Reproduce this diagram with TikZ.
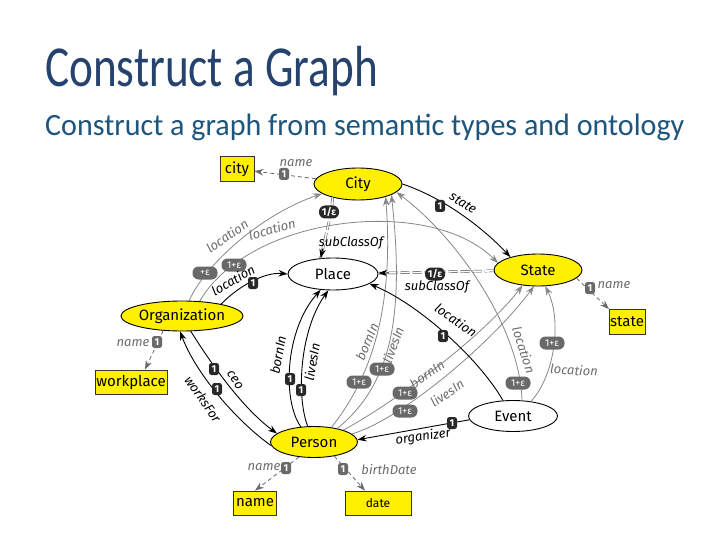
\documentclass[tikz,border=0pt]{standalone}
\usepackage{fontspec}
\setmainfont{Carlito}
\newfontfamily\titlefont[FakeStretch=0.78]{Carlito}
\newfontfamily\subfont[FakeStretch=0.97]{Carlito}
\newfontfamily\dfont{Fira Sans}
\usetikzlibrary{arrows.meta,shapes.geometric}
\definecolor{ylw}{RGB}{255,240,0}
\definecolor{ttlc}{RGB}{38,66,110}
\definecolor{subtc}{RGB}{30,85,125}
\definecolor{gedge}{RGB}{135,135,135}
\definecolor{glabc}{RGB}{110,110,110}
\definecolor{dbadge}{RGB}{40,40,40}
\definecolor{gbadgec}{RGB}{105,105,105}
\begin{document}
\begin{tikzpicture}[x=1pt,y=-1pt,
  >={Stealth[length=9pt,width=6.5pt]},
  ent/.style={ellipse, draw=black, line width=0.9pt, inner sep=0pt, font=\dfont\fontsize{15}{15}\selectfont},
  yent/.style={ent, fill=ylw},
  went/.style={ent, fill=white},
  lit/.style={rectangle, draw=black!80, fill=ylw, line width=0.8pt, inner sep=0pt, minimum height=24pt, font=\dfont\fontsize{15}{15}\selectfont},
  badge/.style={rectangle, fill=dbadge, text=white, rounded corners=2.5pt, inner sep=0pt, minimum width=10pt, minimum height=12pt, font=\dfont\bfseries\fontsize{10}{10}\selectfont},
  gbadge/.style={badge, fill=gbadgec},
  ebadge/.style={badge, minimum width=20pt, minimum height=13pt, rounded corners=6pt, font=\dfont\bfseries\fontsize{10}{10}\selectfont},
  pbadge/.style={badge, fill=gbadgec, minimum width=25pt, minimum height=13pt, rounded corners=6pt, font=\dfont\fontsize{10}{10}\selectfont},
  bl/.style={draw=black, line width=0.9pt},
  gl/.style={draw=gedge, line width=0.8pt},
  dl/.style={draw=gbadgec, line width=0.8pt, dash pattern=on 4pt off 3pt},
  subc/.style={draw=black!75, double=white, double distance=1.6pt, line width=0.45pt, dash pattern=on 9pt off 3pt},
  lab/.style={inner sep=0pt, font=\dfont\itshape\fontsize{13}{13}\selectfont},
  glab/.style={lab, text=glabc}
]
\useasboundingbox (0,0) rectangle (720,540);
\fill[white] (0,0) rectangle (720,540);

% titles
\node[anchor=base west, inner sep=0pt, text=ttlc, font=\titlefont\fontsize{58}{58}\selectfont] (title) at (45,87) {Construct a Graph};
\node[anchor=base west, inner sep=0pt, text=subtc, font=\subfont\fontsize{31}{31}\selectfont] (subtitle) at (45,136) {Construct a graph from semantic types and ontology};

% nodes
\node[yent, minimum width=88pt, minimum height=32pt] (City) at (358,184) {City};
\node[went, minimum width=90pt, minimum height=32pt] (Place) at (333,274) {Place};
\node[yent, minimum width=88pt, minimum height=32pt] (State) at (538,270) {State};
\node[yent, minimum width=97pt, minimum height=30pt] (Org) at (182,316) {Organization};
\node[went, minimum width=89pt, minimum height=31pt] (Event) at (513,416) {Event};
\node[yent, minimum width=87pt, minimum height=31pt] (Person) at (314,442) {Person};
\node[lit, minimum width=34pt, minimum height=25pt] (cityB) at (237,169) {city};
\node[lit, minimum width=36pt, minimum height=25pt] (stateB) at (627,322) {state};
\node[lit, minimum width=72pt] (workplace) at (131,382) {workplace};
\node[lit, minimum width=43pt] (nameB) at (255,503) {name};
\node[lit, minimum width=66pt, font=\dfont\fontsize{12}{12}\selectfont] (dateB) at (378,503) {date};

% City -> city
\draw[dl,->] (City) -- (cityB);
\node[gbadge] (b1) at (284,174) {1};
\node[glab] (l1) at (296,163) {name};

% City -> State
\draw[bl,->] (City.0) .. controls (450,200) and (490,235) .. (State.155);
\node[badge] (b2) at (440,206) {1};
\node[lab, rotate=-32] (l2) at (463,203) {state};

% City -> Place subClassOf
\draw[subc] (City.-152) -- ++(-1,13) coordinate (cp1) -- (Place.128);
\path (cp1) -- (Place.128) coordinate[pos=0.8] (cp2);
\draw[bl,->] (cp2) -- (Place.128);
\node[ebadge] (b3) at (329,212) {1/ε};
\node[lab] (l3) at (351,243) {subClassOf};

% State -> Place subClassOf
\draw[subc] (State) -- (Place);
\path (State) -- (Place) coordinate[pos=0.91] (sp1);
\draw[bl,->] (sp1) -- (Place);
\node[ebadge] (b4) at (435,274) {1/ε};
\node[lab] (l4) at (437,287) {subClassOf};

% Organization -> City
\draw[gl,->] (Org.65) .. controls (205,265) and (260,215) .. (City.-165);
\node[pbadge] (b5) at (205,273) {+ε};
\node[glab, rotate=35] (l5) at (227,236) {location};

% Organization -> State
\draw[gl,->] (Org.40) .. controls (250,215) and (430,195) .. (State.170);
\node[pbadge] (b6) at (234,265) {1+ε};
\node[glab, rotate=15] (l6) at (272,229) {location};

% Organization -> Place
\draw[bl,->] (Org.17) .. controls (240,285) and (265,272) .. (Place.180);
\node[badge] (b7) at (253,283) {1};
\node[lab, rotate=30] (l7) at (233,280) {location};

% Organization -> Person (ceo)
\draw[bl,->] (Org.-60) .. controls (215,370) and (245,410) .. (Person.167);
\node[badge] (b8) at (214,369) {1};
\node[lab, rotate=-55] (l8) at (235,380) {ceo};

% Person -> Organization (worksFor)
\draw[bl,->] (Person.185) .. controls (235,420) and (195,372) .. (Org.-97);
\node[badge] (b9) at (217,389) {1};
\node[lab, rotate=-55] (l9) at (203,399) {worksFor};

% Organization -> workplace
\draw[dl,->] (Org.-142) -- ([xshift=14pt]workplace.north);
\node[gbadge] (b10) at (157,342) {1};
\node[glab] (l10) at (133,343) {name};

% Person -> Place (bornIn, livesIn)
\draw[bl,->] (Person.131) .. controls (282,400) and (285,330) .. (Place.-128);
\node[badge] (b11) at (290,379) {1};
\node[lab, rotate=80] (l11) at (278,355) {bornIn};
\draw[bl,->] (Person.112) .. controls (296,395) and (300,330) .. (Place.-106);
\node[badge] (b12) at (301,390) {1};
\node[lab, rotate=80] (l12) at (312,362) {livesIn};

% Person -> City (bornIn, livesIn)
\draw[gl,->] (Person.40) .. controls (365,385) and (395,320) .. (City.-25);
\node[pbadge] (b13) at (359,382) {1+ε};
\node[glab, rotate=67] (l13) at (367,342) {bornIn};
\draw[gl,->] (Person.30) .. controls (390,385) and (405,320) .. (City.-18);
\node[pbadge] (b14) at (382,369) {1+ε};
\node[glab, rotate=70] (l14) at (393,345) {livesIn};

% Person -> State (bornIn, livesIn)
\draw[gl,->] (Person.22) .. controls (390,405) and (480,340) .. (State.-135);
\node[pbadge] (b15) at (405,393) {1+ε};
\node[glab, rotate=35] (l15) at (427,374) {bornIn};
\draw[gl,->] (Person.12) .. controls (400,420) and (490,345) .. (State.-104);
\node[pbadge] (b16) at (405,411) {1+ε};
\node[glab, rotate=35] (l16) at (447,393) {livesIn};

% Event -> Place
\draw[bl,->] (Event.123) .. controls (480,360) and (420,305) .. (Place.-15);
\node[badge] (b17) at (443,336) {1};
\node[lab, rotate=-35] (l17) at (456,320) {location};

% Event -> City
\draw[gl,->] (Event.60) .. controls (520,330) and (460,240) .. (City.-12);
\node[pbadge] (b18) at (518,383) {1+ε};
\node[glab, rotate=-72] (l18) at (524,350) {location};

% Event -> State
\draw[gl,->] (Event.39) .. controls (555,375) and (562,320) .. (State.-66);
\node[pbadge] (b19) at (552,343) {1+ε};
\node[glab, rotate=-3] (l19) at (574,370) {location};

% Event -> Person (organizer)
\draw[bl,->] (Event.185) -- (Person.3);
\node[badge] (b20) at (452,423) {1};
\node[lab, rotate=8] (l20) at (423,437) {organizer};

% State -> state
\draw[dl,->] (State.-12) -- ([xshift=-18pt]stateB.north);
\node[gbadge] (b21) at (590,288) {1};
\node[glab] (l21) at (614,285) {name};

% Person -> name
\draw[dl,->] (Person.-135) -- (nameB.north);
\node[gbadge] (b22) at (286,468) {1};
\node[glab] (l22) at (264,467) {name};

% Person -> date
\draw[dl,->] (Person.-35) -- ([xshift=-13pt]dateB.north);
\node[gbadge] (b23) at (343,469) {1};
\node[glab] (l23) at (389,470) {birthDate};
\end{tikzpicture}
\end{document}
